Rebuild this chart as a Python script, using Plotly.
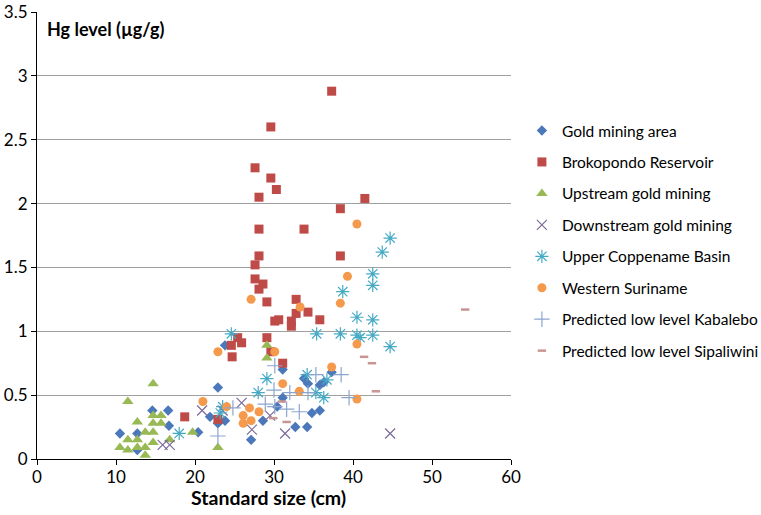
import plotly.graph_objects as go

# ---- data (standard size cm, Hg level ug/g) ----
gold_x = [10.5, 12.7, 14.6, 16.6, 16.7, 12.7, 20.4, 21.9, 22.9, 22.9, 23.8, 23.8, 27.1, 28.6, 30.4, 31.1, 31.1,
          32.7, 34.2, 34.8, 35.8, 33.8, 34.3, 35.8, 36.3, 37.3]
gold_y = [0.20, 0.20, 0.38, 0.38, 0.26, 0.07, 0.21, 0.33, 0.56, 0.28, 0.30, 0.89, 0.15, 0.30, 0.41, 0.48, 0.70,
          0.25, 0.25, 0.36, 0.38, 0.63, 0.59, 0.58, 0.60, 0.68]

brok_x = [37.3, 29.6, 27.6, 29.6, 30.3, 28.1, 41.5, 38.4, 28.1, 33.8, 28.1, 38.4, 27.6, 27.6, 28.6, 28.1, 29.1,
          32.8, 32.8, 34.3, 35.8, 30.1, 30.6, 32.2, 32.2, 29.1, 25.4, 25.9, 24.6, 24.7, 29.6, 31.1, 22.9, 18.7]
brok_y = [2.88, 2.60, 2.28, 2.20, 2.11, 2.05, 2.04, 1.96, 1.80, 1.80, 1.59, 1.59, 1.52, 1.41, 1.37, 1.33, 1.23,
          1.25, 1.14, 1.15, 1.09, 1.08, 1.09, 1.08, 1.04, 0.95, 0.95, 0.91, 0.89, 0.80, 0.84, 0.75, 0.31, 0.33]

up_x = [10.5, 11.5, 11.5, 11.5, 12.7, 12.7, 12.7, 13.7, 13.7, 13.7, 14.7, 14.7, 14.7, 14.7, 14.7, 15.7, 15.7,
        16.8, 19.7, 22.9, 29.1, 29.1]
up_y = [0.09, 0.45, 0.15, 0.07, 0.29, 0.15, 0.09, 0.21, 0.09, 0.03, 0.59, 0.34, 0.28, 0.21, 0.13, 0.34, 0.28,
        0.15, 0.21, 0.09, 0.89, 0.79]

down_x = [15.9, 16.8, 20.9, 25.9, 23.5, 27.2, 31.4, 29.5, 44.7]
down_y = [0.11, 0.11, 0.38, 0.44, 0.38, 0.23, 0.20, 0.34, 0.20]

copp_x = [44.7, 43.7, 42.5, 42.5, 38.7, 40.5, 42.5, 35.4, 38.4, 24.6, 40.5, 40.9, 42.5, 44.7, 29.1, 28.0, 34.2,
          35.3, 36.3, 36.7, 23.5, 23.2, 18.0]
copp_y = [1.73, 1.62, 1.45, 1.36, 1.31, 1.11, 1.09, 0.98, 0.98, 0.98, 0.97, 0.95, 0.97, 0.88, 0.63, 0.52, 0.66,
          0.52, 0.48, 0.62, 0.41, 0.36, 0.20]

west_x = [40.5, 39.3, 27.1, 38.4, 33.3, 40.5, 22.9, 30.1, 37.3, 31.1, 33.2, 21.0, 24.0, 26.9, 28.1, 26.1, 27.1,
          26.1, 40.5]
west_y = [1.84, 1.43, 1.25, 1.22, 1.19, 0.90, 0.84, 0.84, 0.72, 0.59, 0.53, 0.45, 0.41, 0.40, 0.37, 0.34, 0.30,
          0.28, 0.47]

kab_x = [30.1, 30.0, 32.0, 34.3, 35.3, 38.5, 39.5, 24.8, 28.9, 30.1, 31.6, 33.2, 22.9]
kab_y = [0.73, 0.54, 0.52, 0.52, 0.66, 0.66, 0.48, 0.40, 0.43, 0.41, 0.39, 0.37, 0.18]

sip_x = [54.2, 41.4, 42.4, 42.9, 31.0, 29.9, 31.6]
sip_y = [1.17, 0.80, 0.75, 0.53, 0.45, 0.32, 0.29]

x_ticks = [0, 10, 20, 30, 40, 50, 60]
y_ticks = [0, 0.5, 1, 1.5, 2, 2.5, 3, 3.5]
y_labels = ["0", "0.5", "1", "1.5", "2", "2.5", "3", "3.5"]

FONT = "Lato"

series = [
    ("Gold mining area", gold_x, gold_y, dict(symbol="diamond", size=8, color="#4A78BA")),
    ("Brokopondo Reservoir", brok_x, brok_y, dict(symbol="square", size=9, color="#BE4B48")),
    ("Upstream gold mining", up_x, up_y, dict(symbol="triangle-up", size=10, color="#98B954")),
    ("Downstream gold mining", down_x, down_y,
     dict(symbol="x-thin-open", size=10, color="#7D6A9A", line=dict(width=1.2, color="#7D6A9A"))),
    ("Upper Coppename Basin", copp_x, copp_y,
     dict(symbol="asterisk-open", size=11, color="#46AAC5", line=dict(width=1.2, color="#46AAC5"))),
    ("Western Suriname", west_x, west_y, dict(symbol="circle", size=9, color="#F59A4C")),
    ("Predicted low level Kabalebo", kab_x, kab_y,
     dict(symbol="cross-thin-open", size=11, color="#8CA5CF", line=dict(width=1.2, color="#8CA5CF"))),
    ("Predicted low level Sipaliwini", sip_x, sip_y,
     dict(symbol="line-ew-open", size=6, color="#C99593", line=dict(width=2.5, color="#C99593"))),
]

fig = go.Figure()
for i, (name, xs, ys, mk) in enumerate(series):
    fig.add_trace(go.Scatter(x=xs, y=ys, mode="markers", name=name, marker=mk,
                             legendgroup=f"g{i}"))

fig.update_layout(
    width=761, height=515,
    margin=dict(l=37, r=250, t=12, b=56, autoexpand=False),
    paper_bgcolor="white", plot_bgcolor="white",
    font=dict(family=FONT, size=16, color="black"),
    showlegend=True,
    legend=dict(x=1.023, y=0.772, xanchor="left", yanchor="top",
                font=dict(family=FONT, size=15.5, color="black"),
                tracegroupgap=8.3, itemsizing="trace", bgcolor="rgba(0,0,0,0)"),
    xaxis=dict(range=[0, 60], tickvals=x_ticks, showgrid=False, zeroline=False,
               showline=True, linecolor="black", linewidth=1.2, automargin=False,
               ticks="outside", ticklen=5, tickcolor="black", ticklabelstandoff=-3,
               tickfont=dict(size=17)),
    yaxis=dict(range=[0, 3.5], tickvals=y_ticks, ticktext=y_labels,
               showgrid=True, gridcolor="#A0A0A0", gridwidth=1.2, zeroline=False,
               showline=True, linecolor="black", linewidth=1.2, automargin=False,
               ticks="outside", ticklen=5, tickcolor="black",
               tickfont=dict(size=17)),
    annotations=[
        dict(text="<b>Hg level (µg/g)</b>", xref="paper", yref="paper", x=0.017, y=0.99,
             xanchor="left", yanchor="top", showarrow=False, font=dict(size=18)),
        dict(text="<b>Standard size (cm)</b>", xref="paper", yref="paper", x=0.488, y=-0.086,
             xanchor="center", yanchor="middle", showarrow=False, font=dict(size=19.5)),
    ],
)

fig.write_html("out.html", config={"displayModeBar": False},
               post_script="document.body.style.margin='0';")
